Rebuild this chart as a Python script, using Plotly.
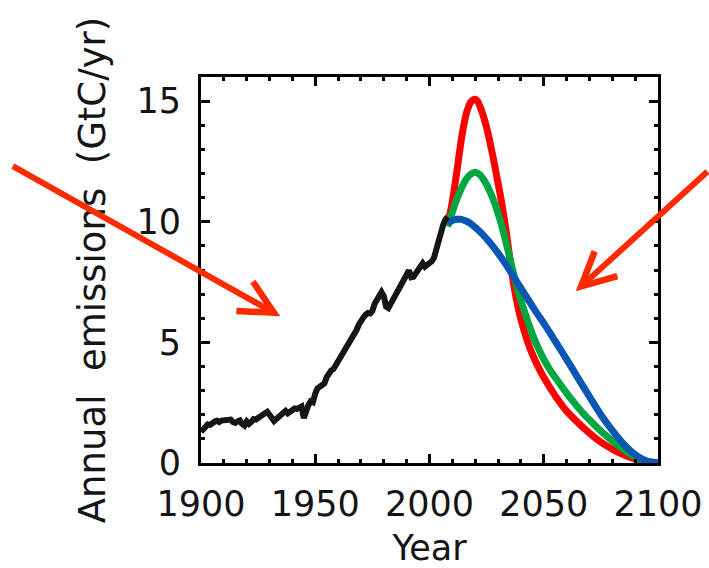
import plotly.graph_objects as go

# ---------------- data ----------------
hist_years = list(range(1900, 2009))
hist_values = [
    1.30, 1.42, 1.50, 1.60, 1.58, 1.68, 1.72, 1.75, 1.70, 1.76,   # 1900-1909
    1.78, 1.74, 1.76, 1.80, 1.70, 1.66, 1.72, 1.76, 1.62, 1.55,   # 1910-1919
    1.72, 1.62, 1.70, 1.82, 1.80, 1.86, 1.88, 1.98, 2.02, 2.12,   # 1920-1929
    2.00, 1.86, 1.74, 1.82, 1.92, 1.98, 2.08, 2.16, 2.06, 2.14,   # 1930-1939
    2.22, 2.26, 2.24, 2.30, 2.34, 1.86, 2.18, 2.40, 2.56, 2.52,   # 1940-1949
    2.88, 3.10, 3.16, 3.24, 3.30, 3.56, 3.72, 3.84, 3.90, 4.06,   # 1950-1959
    4.26, 4.30, 4.46, 4.66, 4.88, 5.02, 5.20, 5.30, 5.50, 5.72,   # 1960-1969
    5.92, 6.02, 6.14, 6.22, 6.20, 6.30, 6.60, 6.76, 6.88, 7.08,   # 1970-1979
    6.92, 6.48, 6.42, 6.60, 6.82, 7.02, 7.16, 7.32, 7.56, 7.72,   # 1980-1989
    7.86, 7.98, 7.70, 7.72, 7.86, 8.02, 8.16, 8.28, 8.14, 8.20,   # 1990-1999
    8.24, 8.36, 8.52, 8.90, 9.30, 9.64, 9.88, 10.10, 10.20,       # 2000-2008
]

red_years = [2008, 2009, 2010, 2011, 2012, 2013, 2014, 2015, 2016, 2017, 2018, 2019,
             2020, 2021, 2022, 2023, 2024, 2025, 2026, 2027, 2028, 2029, 2030, 2031,
             2032, 2033, 2034, 2035, 2036, 2037, 2038, 2039, 2040, 2042, 2044, 2046,
             2048, 2050, 2053, 2056, 2060, 2064, 2068, 2072, 2076, 2080, 2084, 2088,
             2092, 2096, 2100]
red_values = [10.0, 10.35, 10.85, 11.45, 12.1, 12.8, 13.45, 14.0, 14.45, 14.75, 14.95, 15.05,
              15.08, 15.0, 14.8, 14.55, 14.25, 13.9, 13.5, 13.05, 12.6, 12.1, 11.6, 11.1,
              10.55, 9.95, 9.3, 8.6, 7.9, 7.3, 6.8, 6.35, 5.95, 5.3, 4.75, 4.3,
              3.9, 3.55, 3.08, 2.65, 2.15, 1.76, 1.4, 1.08, 0.8, 0.57, 0.38, 0.23,
              0.12, 0.04, 0.0]

green_years = [2008, 2010, 2012, 2014, 2016, 2018, 2020, 2022, 2024, 2026, 2028, 2030,
               2032, 2034, 2036, 2038, 2040, 2042, 2044, 2046, 2048, 2050, 2053, 2056,
               2060, 2064, 2068, 2072, 2076, 2080, 2084, 2088, 2092, 2096, 2100]
green_values = [9.8, 10.4, 10.95, 11.4, 11.75, 11.97, 12.05, 11.95, 11.7, 11.35, 10.9, 10.35,
                9.7, 8.95, 8.15, 7.4, 6.75, 6.15, 5.6, 5.1, 4.68, 4.3, 3.82, 3.42,
                2.9, 2.42, 1.98, 1.6, 1.24, 0.92, 0.62, 0.36, 0.16, 0.05, 0.0]

blue_years = [2008, 2010, 2012, 2014, 2016, 2018, 2020, 2022, 2024, 2026, 2028, 2030,
              2032, 2034, 2036, 2038, 2040, 2043, 2046, 2050, 2055, 2060, 2065, 2070,
              2075, 2080, 2085, 2090, 2095, 2100]
blue_values = [9.95, 10.05, 10.1, 10.1, 10.03, 9.92, 9.77, 9.6, 9.4, 9.18, 8.95, 8.7,
               8.43, 8.15, 7.85, 7.55, 7.25, 6.8, 6.35, 5.8, 5.05, 4.3, 3.52, 2.75,
               2.0, 1.35, 0.78, 0.35, 0.08, 0.0]

x_ticks = [1900, 1950, 2000, 2050, 2100]
y_ticks = [0, 5, 10, 15]

FONT = "DejaVu Sans, Verdana, sans-serif"
TXT = "#141414"

fig = go.Figure()
for yrs, vals, col in [(red_years, red_values, "#ff0000"),
                       (green_years, green_values, "#00a640"),
                       (blue_years, blue_values, "#0757b3")]:
    fig.add_trace(go.Scatter(x=yrs, y=vals, mode="lines",
                             line=dict(color=col, width=7, shape="spline", smoothing=0.6),
                             showlegend=False, hoverinfo="skip"))
fig.add_trace(go.Scatter(x=hist_years, y=hist_values, mode="lines",
                         line=dict(color="#151515", width=6),
                         showlegend=False, hoverinfo="skip"))

axis_common = dict(
    showgrid=False, zeroline=False, showline=True, linecolor="black", linewidth=3,
    mirror="ticks", ticks="inside", ticklen=9, tickwidth=2.5, tickcolor="black",
    tickfont=dict(family=FONT, size=35, color=TXT),
)
fig.update_xaxes(range=[1900, 2100], tickvals=x_ticks, ticktext=[str(v) for v in x_ticks],
                 minor=dict(dtick=10, tick0=1900, ticks="inside", ticklen=4, tickwidth=2.5,
                            tickcolor="black"),
                 title=dict(text="Year", font=dict(family=FONT, size=35, color=TXT),
                            standoff=17),
                 ticklabelstandoff=8,
                 **axis_common)
fig.update_yaxes(range=[0, 16], tickvals=y_ticks, ticktext=[str(v) for v in y_ticks],
                 minor=dict(dtick=1, tick0=0, ticks="inside", ticklen=4, tickwidth=2.5,
                            tickcolor="black"),
                 title=dict(text="Annual\u00a0 emissions\u00a0 (GtC/yr)",
                            font=dict(family=FONT, size=37, color=TXT), standoff=20),
                 ticklabelstandoff=10,
                 **axis_common)

ARROW = "#ff2a00"
fig.add_annotation(x=1934.7, y=6.08, xref="x", yref="y", text="", showarrow=True,
                   arrowhead=5, arrowsize=1.1, arrowwidth=6, arrowcolor=ARROW,
                   axref="pixel", ayref="pixel", ax=-269, ay=-151, standoff=0)
fig.add_annotation(x=2064.0, y=7.12, xref="x", yref="y", text="", showarrow=True,
                   arrowhead=5, arrowsize=1.1, arrowwidth=6, arrowcolor=ARROW,
                   axref="pixel", ayref="pixel", ax=150, ay=-121, standoff=0)

fig.update_layout(width=709, height=568, margin=dict(l=201, r=51, t=77, b=105, autoexpand=False),
                  paper_bgcolor="white", plot_bgcolor="white",
                  font=dict(family=FONT, color=TXT))
fig.write_html("out.html")
